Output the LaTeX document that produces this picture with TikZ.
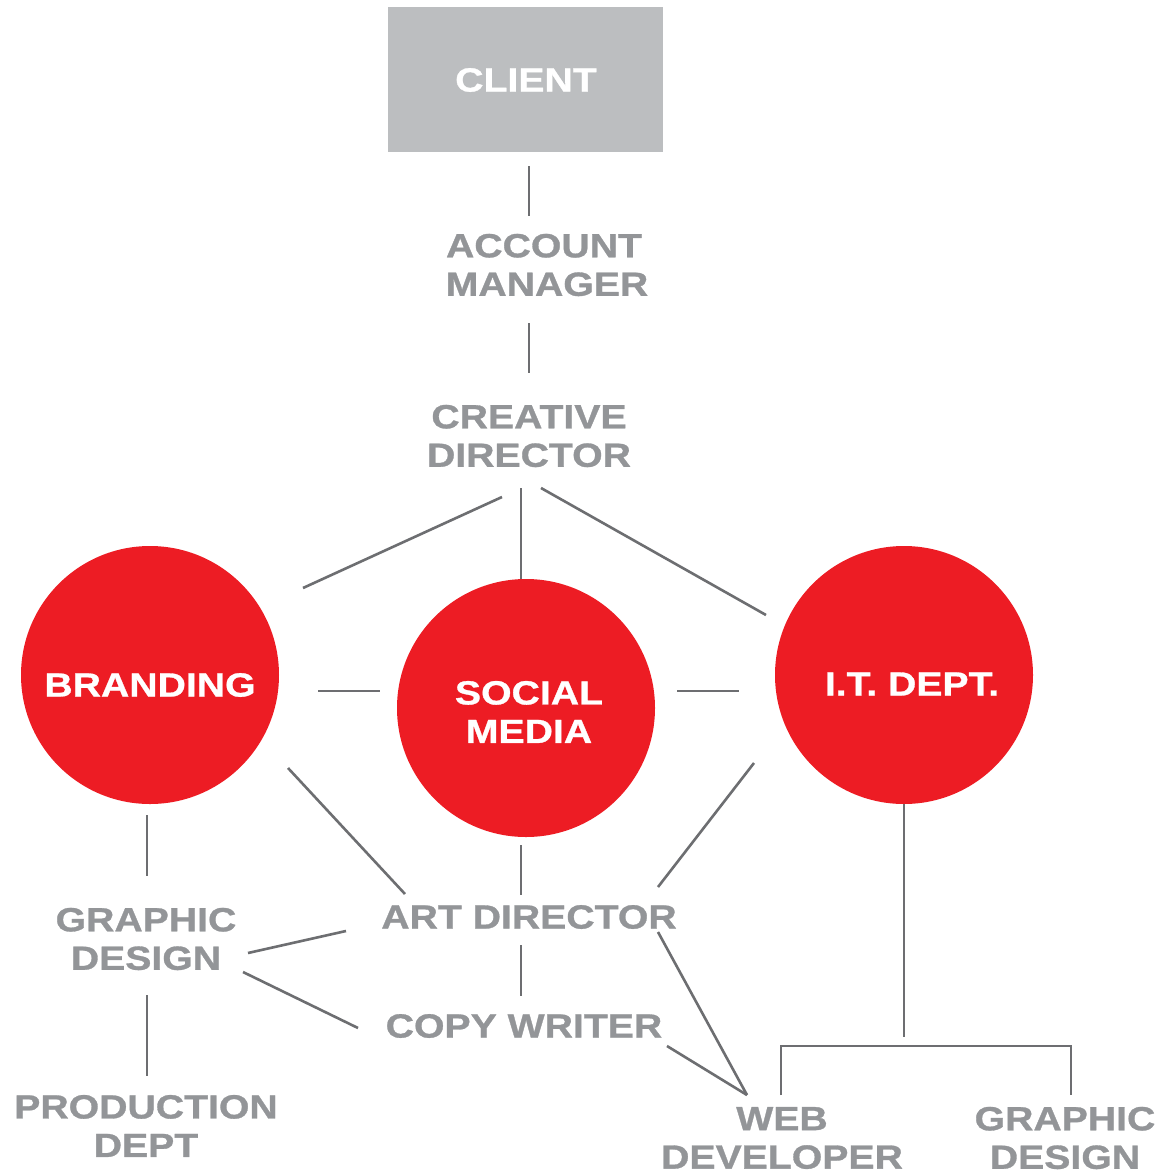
\documentclass[tikz,border=0pt]{standalone}
\usepackage{fontspec}
\setmainfont{Liberation Sans}[FakeStretch=1.17, BoldFeatures={FakeBold=0.9}]
\usetikzlibrary{calc}
\definecolor{cred}{HTML}{ED1C24}
\definecolor{ctext}{HTML}{939598}
\definecolor{cline}{HTML}{6D6E71}
\definecolor{cbox}{HTML}{BCBEC0}
\begin{document}
\begin{tikzpicture}[x=1pt,y=-1pt,
  lbl/.style={inner sep=0pt, align=center, text=ctext, font=\fontsize{33.5}{38.5}\selectfont\bfseries},
  wlbl/.style={lbl, text=white},
  bubble/.style={circle, fill=cred, minimum size=258pt, inner sep=0pt},
  conn/.style={draw=cline, line width=2.6pt}]
\useasboundingbox (0,0) rectangle (1171,1173);
\fill[white] (0,0) rectangle (1171,1173);
% client box
\node[fill=cbox, minimum width=275pt, minimum height=145pt, inner sep=0pt] (client) at (525.5,79.5) {};
\node[wlbl] (clienttxt) at (526,80) {CLIENT};
% labels
\node[lbl] (am) at (544,265) {ACCOUNT\\\hspace*{6pt}MANAGER};
\node[lbl] (cd) at (529,436) {CREATIVE\\DIRECTOR};
% circles
\node[bubble] (brand) at (150,675) {};
\node[bubble] (social) at (526,708) {};
\node[bubble] (it) at (904,675) {};
\node[wlbl] (brandtxt) at (150,685) {BRANDING};
\node[wlbl] (socialtxt) at (529,712) {SOCIAL\\MEDIA};
\node[wlbl] (ittxt) at (912,684) {I.T. DEPT.};
% lower labels
\node[lbl] (gd) at (146,939) {GRAPHIC\\DESIGN};
\node[lbl] (ad) at (529,917) {ART DIRECTOR};
\node[lbl] (cw) at (524,1026) {COPY WRITER};
\node[lbl] (pd) at (146,1126) {PRODUCTION\\DEPT};
\node[lbl] (wd) at (782,1138) {WEB\\DEVELOPER};
\node[lbl] (gd2) at (1065,1138) {GRAPHIC\\DESIGN};
% connectors
\draw[conn] ($(client)+(3.5,86.5)$) -- ($(am)+(-15,-49)$);
\draw[conn] ($(am)+(-15,58)$) -- ($(cd)+(0,-63)$);
\draw[conn] ($(cd)+(-27,61)$) -- ($(brand)+(153,-87)$);
\draw[conn] ($(cd)+(-8,52)$) -- ($(social)+(-5,-129)$);
\draw[conn] ($(cd)+(12,52)$) -- ($(it)+(-138,-60)$);
\draw[conn] ($(brand)+(168,16)$) -- ($(social)+(-146,-17)$);
\draw[conn] ($(social)+(151,-17)$) -- ($(it)+(-165,16)$);
\draw[conn] ($(brand)+(138,93)$) -- ($(ad)+(-124,-23)$);
\draw[conn] ($(social)+(-5,137)$) -- ($(ad)+(-8,-22)$);
\draw[conn] ($(it)+(-150,88)$) -- ($(ad)+(129,-30)$);
\draw[conn] ($(brand)+(-3,140)$) -- ($(gd)+(1,-63)$);
\draw[conn] ($(gd)+(1,56)$) -- ($(pd)+(1,-50)$);
\draw[conn] ($(gd)+(102,14)$) -- ($(ad)+(-183,14)$);
\draw[conn] ($(gd)+(97,33)$) -- ($(cw)+(-166,2)$);
\draw[conn] ($(ad)+(-8,28)$) -- ($(cw)+(-3,-30)$);
\draw[conn] ($(ad)+(129,15)$) -- ($(wd)+(-35,-43)$);
\draw[conn] ($(cw)+(143,20)$) -- ($(wd)+(-35,-43)$);
\draw[conn] (it.south) -- ($(it)+(0,362)$);
\draw[conn] ($(wd)+(-1,-43)$) |- ($(gd2)+(6,-92)$) -- ($(gd2)+(6,-43)$);
\end{tikzpicture}
\end{document}
